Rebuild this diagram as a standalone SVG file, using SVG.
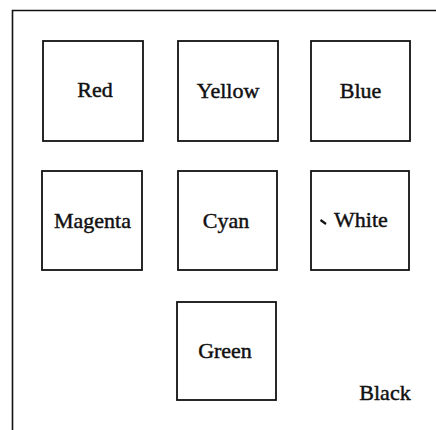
<svg xmlns="http://www.w3.org/2000/svg" width="436" height="430" viewBox="0 0 436 430">
<style>
.box{fill:#fff;stroke:#111;stroke-width:1.8}
.lbl{font-family:"Liberation Serif","Times New Roman",serif;font-size:22px;fill:#111;stroke:#111;stroke-width:0.45;text-anchor:middle}
.frame{fill:none;stroke:#111;stroke-width:1.6}
</style>
<rect width="436" height="430" fill="#fff"/>
<g id="frame"><path class="frame" d="M12.5,430 V10.5 H436"/></g>
<g id="red"><rect class="box" x="43" y="41" width="100" height="100"/><text class="lbl" x="95" y="97">Red</text></g>
<g id="yellow"><rect class="box" x="178" y="41" width="100" height="100"/><text class="lbl" x="228" y="98">Yellow</text></g>
<g id="blue"><rect class="box" x="311" y="41" width="99" height="100"/><text class="lbl" x="360.5" y="98">Blue</text></g>
<g id="magenta"><rect class="box" x="42" y="171" width="100" height="99"/><text class="lbl" x="92.5" y="228">Magenta</text></g>
<g id="cyan"><rect class="box" x="178" y="171" width="99" height="99"/><text class="lbl" x="226" y="228">Cyan</text></g>
<g id="white"><rect class="box" x="311" y="171" width="98" height="99"/><path d="M320.5,220 L326,224" stroke="#111" stroke-width="2.2"/><text class="lbl" x="361" y="227">White</text></g>
<g id="green"><rect class="box" x="177" y="302" width="99" height="98"/><text class="lbl" x="225" y="358">Green</text></g>
<g id="black"><text class="lbl" x="385" y="400">Black</text></g>
<g id="connectors"></g>
</svg>
